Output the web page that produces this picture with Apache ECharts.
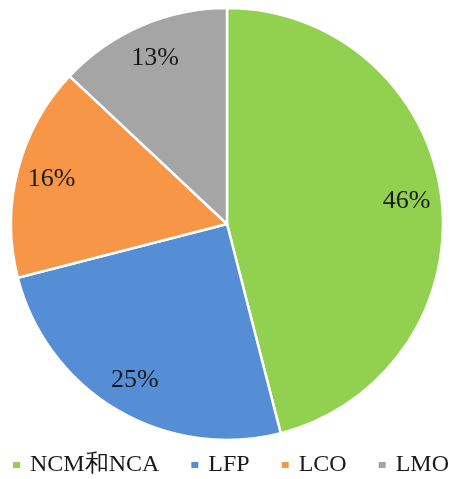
<!DOCTYPE html>
<html>
<head>
<meta charset="utf-8">
<script src="https://cdn.jsdelivr.net/npm/echarts@6/dist/echarts.min.js"></script>
<style>
  html, body { margin: 0; padding: 0; background: #fff; }
  #chart { width: 460px; height: 479px; }
</style>
</head>
<body>
<div id="chart"></div>
<script>
  const categories = ['NCM和NCA', 'LFP', 'LCO', 'LMO'];
  const shares = [46, 25, 16, 13];
  const colors = ['#92D050', '#558ED5', '#F79646', '#A5A5A5'];

  const pieData = categories.map((name, i) => ({
    name: name,
    value: shares[i],
    itemStyle: { color: colors[i] },
  }));

  const serif = '"Liberation Serif", "Times New Roman", serif';

  const chart = echarts.init(document.getElementById('chart'));
  chart.setOption({
    animation: false,
    color: colors,
    textStyle: { fontFamily: serif },
    legend: {
      top: 453,
      left: 'center',
      padding: 0,
      icon: 'rect',
      itemWidth: 9,
      itemHeight: 8,
      itemGap: 30,
      formatter: '{t|{name}}',
      textStyle: {
        fontFamily: serif,
        fontSize: 24,
        color: '#1a1a1a',
        rich: {
          t: {
            fontFamily: serif,
            fontSize: 24,
            color: '#1a1a1a',
            padding: [0, 0, 0, 4],
          },
        },
      },
      data: categories,
    },
    series: [
      {
        type: 'pie',
        center: [227, 224],
        radius: [0, 216],
        startAngle: 90,
        clockwise: true,
        silent: true,
        itemStyle: { borderColor: '#fff', borderWidth: 2.5 },
        label: { show: false },
        labelLine: { show: false },
        data: pieData,
      },
      {
        // 只用来放百分比标签
        type: 'pie',
        center: [227, 224],
        radius: [140, 216],
        startAngle: 90,
        silent: true,
        itemStyle: { color: 'rgba(0,0,0,0)' },
        label: {
          show: true,
          position: 'inside',
          formatter: '{c}%',
          fontFamily: serif,
          fontSize: 26,
          color: '#1a1a1a',
        },
        labelLine: { show: false },
        data: categories.map((name, i) => ({ name: name, value: shares[i] })),
      },
    ],
  });
</script>
</body>
</html>
